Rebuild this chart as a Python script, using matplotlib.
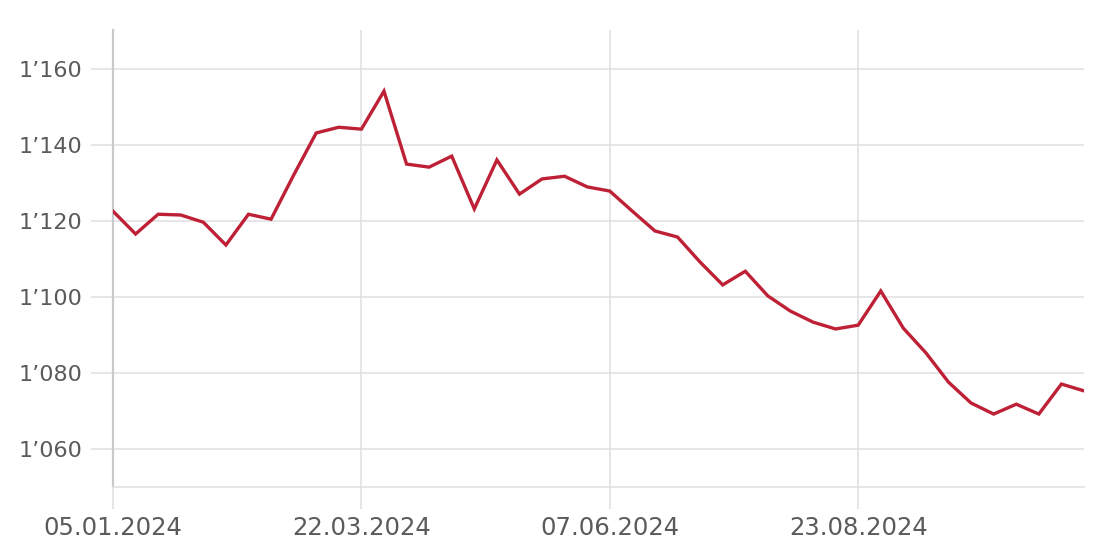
import matplotlib.pyplot as plt
import matplotlib.dates as mdates
import matplotlib.ticker as mticker
import numpy as np

# weekly values, starting 05.01.2024
start = np.datetime64("2024-01-05")
values = [1122.6, 1116.6, 1121.8, 1121.6, 1119.7, 1113.7, 1121.8, 1120.5, 1132.1, 1143.2,
          1144.7, 1144.2, 1154.2, 1135.0, 1134.2, 1137.1, 1123.2, 1136.1, 1127.1, 1131.1,
          1131.8, 1129.0, 1127.9, 1122.6, 1117.4, 1115.8, 1109.2, 1103.2, 1106.8, 1100.3,
          1096.3, 1093.4, 1091.6, 1092.6, 1101.6, 1091.8, 1085.3, 1077.6, 1072.1, 1069.2,
          1071.8, 1069.2, 1077.1, 1075.3]
dates = start + np.arange(len(values)) * np.timedelta64(7, "D")
tick_dates = [np.datetime64(d) for d in ["2024-01-05", "2024-03-22", "2024-06-07", "2024-08-23"]]
y_ticks = [1060, 1080, 1100, 1120, 1140, 1160]

grid_c = "#e1e1e3"
text_c = "#5a5a5a"

fig = plt.figure(figsize=(11.04, 5.56), dpi=100)
ax = fig.add_axes([113/1104, 1 - 487/556, (1084-113)/1104, (487-30)/556])

ax.plot(dates.astype("datetime64[D]").astype("O"), values, color="#be2036", lw=2.4,
        solid_joinstyle="miter", zorder=3)

ax.set_xlim(dates[0].astype("O"), dates[-1].astype("O"))
ax.set_ylim(1050, 1170.3)
ax.set_yticks(y_ticks)
ax.set_xticks([d.astype("O") for d in tick_dates])
ax.xaxis.set_major_formatter(mdates.DateFormatter("%d.%m.%Y"))
ax.yaxis.set_major_formatter(mticker.FuncFormatter(lambda v, p: f"{int(v)//1000}\u2019{int(v)%1000:03d}"))

ax.grid(True, color=grid_c, lw=1.2)
for s in ["top", "right"]:
    ax.spines[s].set_visible(False)
ax.spines["left"].set_color("#c8c9cc")
ax.spines["left"].set_linewidth(1.6)
ax.spines["bottom"].set_color(grid_c)
ax.spines["bottom"].set_linewidth(1.2)
ax.tick_params(axis="both", colors=grid_c, length=16, width=1.2, labelcolor=text_c)
ax.tick_params(axis="y", pad=6, labelsize=16)
ax.tick_params(axis="x", pad=5, labelsize=17.5)

fig.savefig("out.png", dpi=100)
